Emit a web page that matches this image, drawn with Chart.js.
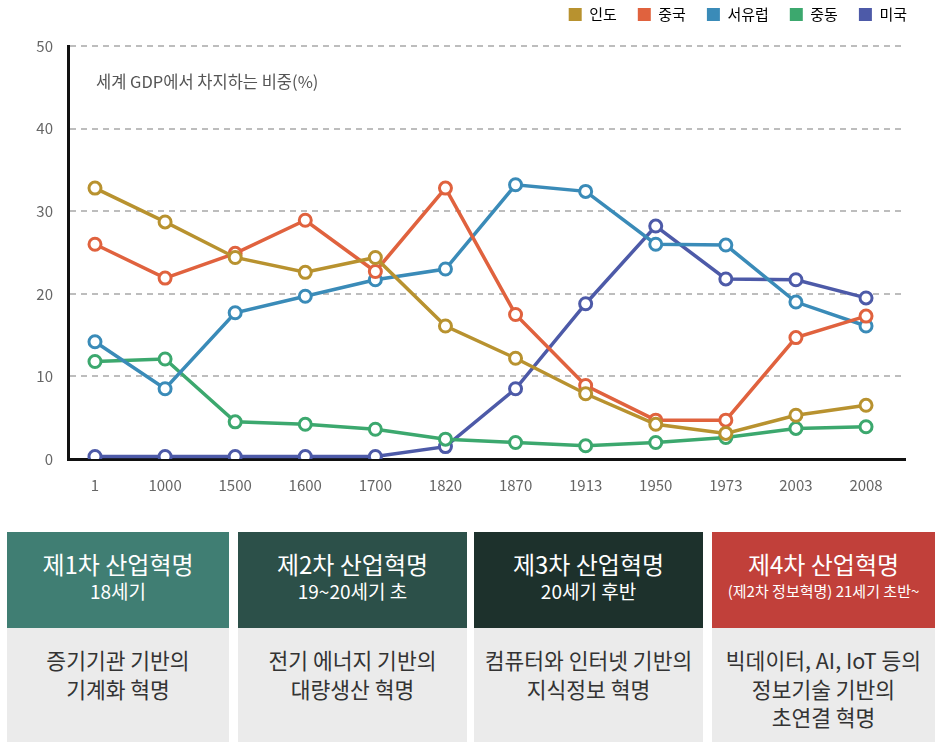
<!DOCTYPE html>
<html>
<head>
<meta charset="utf-8">
<script src="https://cdn.jsdelivr.net/npm/chart.js@4"></script>
<style>
  body { margin:0; background:#fff; font-family:"Noto Sans CJK KR", "Noto Sans", sans-serif; }
  #wrap { position:relative; width:946px; height:510px; }
  .box { position:absolute; top:532px; height:210px; }
  .head { height:96px; box-sizing:border-box; padding-top:17px; text-align:center; color:#fff; }
  .head .t { font-size:24px; line-height:30px; }
  .head .s { font-size:19px; line-height:24px; }
  .body { height:114px; background:#ebebeb; color:#333; text-align:center; font-size:21.5px; line-height:28.5px; padding-top:18px; box-sizing:border-box; }
</style>
</head>
<body>
<div id="wrap"><canvas id="c"></canvas></div>

<div class="box" style="left:7px;width:222px">
  <div class="head" style="background:#407e73"><div class="t">제1차 산업혁명</div><div class="s">18세기</div></div>
  <div class="body">증기기관 기반의<br>기계화 혁명</div>
</div>
<div class="box" style="left:238px;width:229px">
  <div class="head" style="background:#2c5049"><div class="t">제2차 산업혁명</div><div class="s">19~20세기 초</div></div>
  <div class="body">전기 에너지 기반의<br>대량생산 혁명</div>
</div>
<div class="box" style="left:474px;width:229px">
  <div class="head" style="background:#1d312c"><div class="t">제3차 산업혁명</div><div class="s">20세기 후반</div></div>
  <div class="body">컴퓨터와 인터넷 기반의<br>지식정보 혁명</div>
</div>
<div class="box" style="left:712px;width:223px">
  <div class="head" style="background:#c1403a"><div class="t">제4차 산업혁명</div><div class="s" style="font-size:15px">(제2차 정보혁명) 21세기 초반~</div></div>
  <div class="body">빅데이터, AI, IoT 등의<br>정보기술 기반의<br>초연결 혁명</div>
</div>

<script>
const years = ['1','1000','1500','1600','1700','1820','1870','1913','1950','1973','2003','2008'];
const india      = [32.8, 28.7, 24.4, 22.6, 24.4, 16.1, 12.2, 7.9, 4.2, 3.1, 5.3, 6.5];
const china      = [26.0, 21.9, 24.9, 28.9, 22.7, 32.8, 17.5, 8.9, 4.7, 4.7, 14.7, 17.3];
const westEurope = [14.2, 8.5, 17.7, 19.7, 21.7, 23.0, 33.2, 32.4, 26.0, 25.9, 19.0, 16.1];
const middleEast = [11.8, 12.1, 4.5, 4.2, 3.6, 2.4, 2.0, 1.6, 2.0, 2.6, 3.7, 3.9];
const usa        = [0.3, 0.3, 0.3, 0.3, 0.3, 1.5, 8.5, 18.8, 28.2, 21.8, 21.7, 19.5];
const seriesNames = ['인도','중국','서유럽','중동','미국'];
const yTicks = [0, 10, 20, 30, 40, 50];

const FONT = '"Noto Sans CJK KR", "Noto Sans", sans-serif';
const colors = ['#b8922f', '#e0623e', '#3a8bb8', '#3ca86e', '#4d5aa8'];

function mk(name, vals, color){
  return {
    label: name,
    data: vals.map((v,i)=>({x:i, y:v})),
    borderColor: color,
    backgroundColor: color,
    borderWidth: 3.5,
    pointRadius: 6,
    pointHoverRadius: 6,
    pointBorderWidth: 3,
    pointBackgroundColor: '#fff',
    pointBorderColor: color,
    tension: 0
  };
}

const chartTitle = {
  id: 'chartTitle',
  afterDraw(chart){
    const {ctx, chartArea:{left, top}} = chart;
    ctx.save();
    ctx.font = '16.5px ' + FONT;
    ctx.fillStyle = '#555';
    ctx.textBaseline = 'middle';
    ctx.fillText('세계 GDP에서 차지하는 비중(%)', left + 28, top + 36);
    ctx.restore();
  }
};

// legend: fixed height, moved up and right so it sits in the top corner
const legendSpace = {
  id: 'legendSpace',
  beforeInit(chart){
    const fit = chart.legend.fit;
    chart.legend.fit = function(){ fit.call(this); this.height = 46; };
  },
  afterLayout(chart){
    const lg = chart.legend;
    lg.top -= 14; lg.bottom -= 14;
    lg.left += 23; lg.right += 23;
  }
};

const ctx = document.getElementById('c').getContext('2d');
new Chart(ctx, {
  type: 'line',
  data: {
    datasets: [
      mk(seriesNames[0], india, colors[0]),
      mk(seriesNames[1], china, colors[1]),
      mk(seriesNames[2], westEurope, colors[2]),
      mk(seriesNames[3], middleEast, colors[3]),
      mk(seriesNames[4], usa, colors[4])
    ]
  },
  options: {
    responsive: true,
    maintainAspectRatio: false,
    animation: false,
    layout: { padding: { left: 0, right: 41, top: 0, bottom: 0 } },
    plugins: {
      tooltip: { enabled: false },
      legend: {
        position: 'top',
        align: 'end',
        labels: {
          boxWidth: 13, boxHeight: 13, padding: 21,
          color: '#555',
          font: { family: FONT, size: 15 },
          generateLabels(chart){
            return chart.data.datasets.map((d,i)=>({
              text: d.label, fillStyle: d.borderColor, strokeStyle: d.borderColor,
              lineWidth: 0, datasetIndex: i, hidden: false
            }));
          }
        }
      }
    },
    scales: {
      x: {
        type: 'linear',
        min: -0.385,
        max: 11.556,
        afterBuildTicks(scale){ scale.ticks = years.map((y,i)=>({value:i})); },
        afterFit(scale){ scale.height = 51; },
        grid: { display: false, drawTicks: false },
        border: { color: '#111', width: 3 },
        ticks: {
          padding: 17,
          color: '#666',
          font: { family: FONT, size: 15 },
          callback: (v) => years[v],
          maxRotation: 0, autoSkip: false
        }
      },
      y: {
        min: 0, max: 50,
        afterBuildTicks(scale){ scale.ticks = yTicks.map(v=>({value:v})); },
        afterFit(scale){ scale.width = 68; },
        grid: {
          drawTicks: false,
          lineWidth: 2,
          color: (c) => c.tick && c.tick.value === 0 ? 'rgba(0,0,0,0)' : '#bdbdbd'
        },
        border: { color: '#111', width: 3, dash: [6, 5] },
        ticks: {
          padding: 15,
          color: '#666',
          font: { family: FONT, size: 15 }
        }
      }
    }
  },
  plugins: [chartTitle, legendSpace]
});
</script>
</body>
</html>
